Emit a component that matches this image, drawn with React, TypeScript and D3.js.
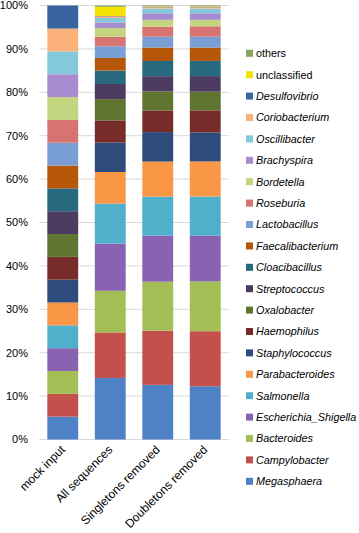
import React, { useRef, useEffect } from 'react';
import * as d3 from 'd3';

// samples on the x axis
const samples = ['mock input', 'All sequences', 'Singletons removed', 'Doubletons removed'];

// taxa from bottom of the stack to the top
const taxa = [
  'Megasphaera', 'Campylobacter', 'Bacteroides', 'Escherichia_Shigella', 'Salmonella',
  'Parabacteroides', 'Staphylococcus', 'Haemophilus', 'Oxalobacter', 'Streptococcus',
  'Cloacibacillus', 'Faecalibacterium', 'Lactobacillus', 'Roseburia', 'Bordetella',
  'Brachyspira', 'Oscillibacter', 'Coriobacterium', 'Desulfovibrio', 'unclassified', 'others',
];

const colors = [
  '#4F81C6', '#C4504C', '#A2BE55', '#8A62B2', '#50AFCA',
  '#F99746', '#2D4C7C', '#772C2A', '#5F7530', '#4D3B62',
  '#276A7F', '#B65708', '#7A9FD4', '#D67471', '#C3D57E',
  '#A98BD0', '#84C8DC', '#FBB27A', '#3A64A0', '#F4E300', '#8AA45A',
];

// percentages per sample, same order as taxa
const mockInput = [5.26, 5.26, 5.26, 5.26, 5.26, 5.26, 5.26, 5.26, 5.26, 5.26,
  5.26, 5.26, 5.26, 5.26, 5.26, 5.26, 5.26, 5.26, 5.32, 0, 0];
const allSequences = [14.2, 10.5, 9.6, 10.9, 9.2, 7.3, 6.8, 5.1, 4.9, 3.5,
  3.1, 2.9, 2.7, 2.2, 2.0, 1.3, 1.0, 0.4, 0.1, 2.1, 0.3];
const singletonsRemoved = [12.6, 12.5, 11.3, 10.6, 9.0, 8.1, 6.8, 5.0, 4.4, 3.5,
  3.5, 3.1, 2.5, 2.3, 1.6, 1.5, 1.1, 0.3, 0.1, 0.1, 0.2];
const doubletonsRemoved = [12.3, 12.7, 11.5, 10.6, 9.0, 8.1, 6.7, 5.1, 4.3, 3.6,
  3.5, 3.1, 2.5, 2.4, 1.5, 1.5, 1.1, 0.3, 0.1, 0.1, 0.2];

const yTicks = [0, 10, 20, 30, 40, 50, 60, 70, 80, 90, 100];

const font = '"Liberation Sans", Arial, sans-serif';

const App = () => {
  const svgRef = useRef<SVGSVGElement>(null);

  useEffect(() => {
    const svg = d3.select(svgRef.current);
    svg.selectAll('*').remove();

    const series = [mockInput, allSequences, singletonsRemoved, doubletonsRemoved];
    const rows = samples.map((s, i) => {
      const row: any = { sample: s };
      taxa.forEach((t, j) => { row[t] = series[i][j]; });
      return row;
    });

    const stack = d3.stack().keys(taxa).offset(d3.stackOffsetExpand);
    const layers = stack(rows);

    const left = 39, right = 229, top = 5.5, bottom = 439.5;

    const x = d3.scaleBand().domain(samples).range([left, right]).paddingInner(0.35).paddingOuter(0.175);
    const y = d3.scaleLinear().domain([0, 1]).range([bottom, top]);
    const color = d3.scaleOrdinal<string>().domain(taxa).range(colors);

    // gridlines
    svg.append('g')
      .selectAll('line')
      .data(yTicks)
      .enter().append('line')
      .attr('x1', left)
      .attr('x2', right)
      .attr('y1', d => y(d / 100))
      .attr('y2', d => y(d / 100))
      .attr('stroke', '#D9D9D9')
      .attr('stroke-width', 1);

    // y labels
    svg.append('g')
      .selectAll('text')
      .data(yTicks)
      .enter().append('text')
      .attr('x', 28)
      .attr('y', d => y(d / 100))
      .attr('dy', '0.36em')
      .attr('text-anchor', 'end')
      .attr('font-family', font)
      .attr('font-size', 11)
      .attr('fill', '#000')
      .text(d => `${d}%`);

    // bars
    svg.append('g')
      .selectAll('g')
      .data(layers)
      .enter().append('g')
      .attr('fill', d => color(d.key))
      .selectAll('rect')
      .data(d => d)
      .enter().append('rect')
      .attr('x', d => x(d.data.sample)!)
      .attr('width', x.bandwidth())
      .attr('y', d => y(d[1]))
      .attr('height', d => Math.max(0, y(d[0]) - y(d[1])));

    // x labels
    svg.append('g')
      .selectAll('text')
      .data(samples)
      .enter().append('text')
      .attr('transform', d => `translate(${x(d)! + x.bandwidth() / 2 + 3},${bottom + 11}) rotate(-45)`)
      .attr('text-anchor', 'end')
      .attr('font-family', font)
      .attr('font-size', 12)
      .attr('fill', '#000')
      .text(d => d);

    // legend
    const legendTaxa = taxa.slice().reverse();
    const legend = svg.append('g')
      .selectAll('g')
      .data(legendTaxa)
      .enter().append('g')
      .attr('transform', (d, i) => `translate(246,${53.3 + i * 21.4})`);

    legend.append('rect')
      .attr('x', 0)
      .attr('y', -3.5)
      .attr('width', 7)
      .attr('height', 7)
      .attr('fill', d => color(d));

    legend.append('text')
      .attr('x', 10)
      .attr('dy', '0.36em')
      .attr('font-family', font)
      .attr('font-size', 10.8)
      .attr('font-style', d => (d === 'others' || d === 'unclassified') ? 'normal' : 'italic')
      .attr('fill', '#000')
      .text(d => d);
  }, []);

  return <svg ref={svgRef} width={359} height={533} style={{ position: 'absolute', left: 0, top: 0 }} />;
};

export default App;
